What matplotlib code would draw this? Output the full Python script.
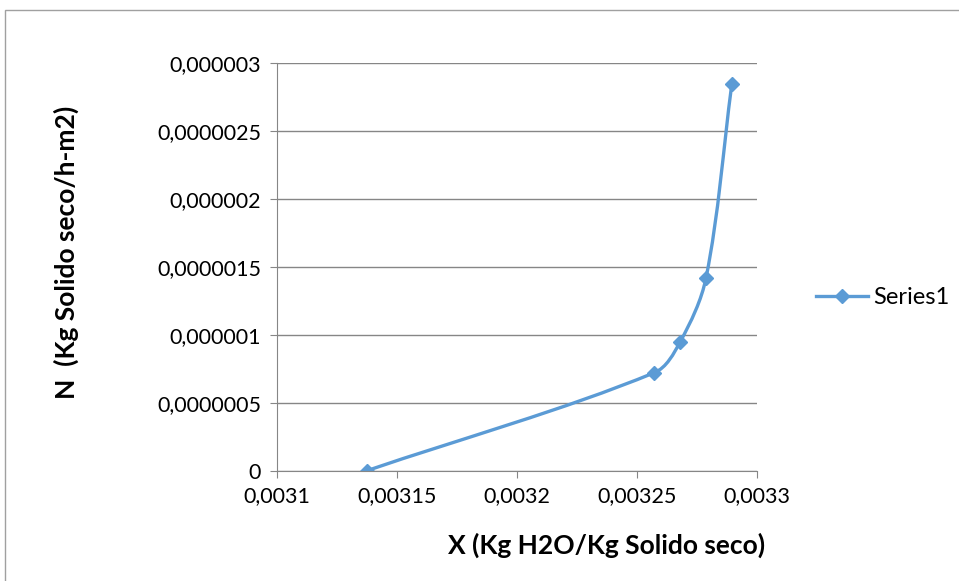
import numpy as np
import matplotlib
matplotlib.use("Agg")
import matplotlib.pyplot as plt
from matplotlib.path import Path
from matplotlib.patches import PathPatch, Rectangle
from matplotlib.lines import Line2D
from matplotlib.ticker import FuncFormatter, MultipleLocator

plt.rcParams['font.family'] = ['Lato', 'DejaVu Sans']

# humedad X y velocidad de secado N
x_vals = [0.0031376, 0.0032573, 0.003268, 0.0032788, 0.0032895]
n_vals = [0.0, 0.000000722, 0.000000948, 0.000001421, 0.000002845]
series_name = "Series1"

blue = "#5B9BD5"
grid_gray = "#868686"

x_lim = (0.0031, 0.0033)
y_lim = (0, 0.000003)
ax_w, ax_h = 480.5, 407.4   # tamano del area de trazado en pixeles


def smooth_path(xs, ys):
    # Bezier cubica; tangentes ponderadas por longitud de cuerda (en pixeles)
    sx = ax_w / (x_lim[1] - x_lim[0])
    sy = ax_h / (y_lim[1] - y_lim[0])
    p = np.column_stack([xs, ys])
    q = p * [sx, sy]
    n = len(p)
    d = [np.hypot(*(q[i + 1] - q[i])) for i in range(n - 1)]
    tang = []
    for i in range(n):
        prev = p[i - 1] if i > 0 else p[i]
        nxt = p[i + 1] if i + 1 < n else p[i]
        tang.append(nxt - prev)
    verts = [p[0]]
    codes = [Path.MOVETO]
    for i in range(n - 1):
        dp = d[i - 1] if i > 0 else 0.0
        dn = d[i + 1] if i + 1 < n - 1 else 0.0
        c1 = p[i] + tang[i] * d[i] / (dp + d[i]) / 3.0
        c2 = p[i + 1] - tang[i + 1] * d[i] / (d[i] + dn) / 3.0
        verts += [c1, c2, p[i + 1]]
        codes += [Path.CURVE4] * 3
    return Path(verts, codes)


def coma(v, pos):
    if v == 0:
        return "0"
    s = ("%.7f" % v).rstrip("0").rstrip(".")
    return s.replace(".", ",")


fig = plt.figure(figsize=(9.59, 5.81), dpi=100)
fig.patches.append(Rectangle((5 / 959, -0.1), 1.2, 1 - 9.5 / 581 + 0.1,
                             transform=fig.transFigure, fill=False,
                             edgecolor="#A0A0A0", lw=1.0))

ax = fig.add_axes([276.5 / 959, 1 - 470.7 / 581, ax_w / 959, ax_h / 581])
ax.set_xlim(*x_lim)
ax.set_ylim(*y_lim)
ax.xaxis.set_major_locator(MultipleLocator(0.00005))
ax.yaxis.set_major_locator(MultipleLocator(0.0000005))
ax.xaxis.set_major_formatter(FuncFormatter(coma))
ax.yaxis.set_major_formatter(FuncFormatter(coma))

ax.grid(axis="y", color=grid_gray, lw=1.0)
ax.set_axisbelow(True)
for side in ["top", "right"]:
    ax.spines[side].set_visible(False)
ax.spines["left"].set_color(grid_gray)
ax.spines["bottom"].set_color(grid_gray)
ax.tick_params(axis="both", direction="out", length=5, color=grid_gray,
               labelsize=15.5, pad=6)

ax.add_patch(PathPatch(smooth_path(x_vals, n_vals), fill=False,
                       edgecolor=blue, lw=2.4, capstyle="round"))
ax.plot(x_vals, n_vals, ls="none", marker="D", ms=7, color=blue)

ax.set_xlabel("X (Kg H2O/Kg Solido seco)", fontsize=19, fontweight="bold")
ax.xaxis.set_label_coords(0.687, -0.152)
ax.set_ylabel("N  (Kg Solido seco/h-m2)", fontsize=19, fontweight="bold")
ax.yaxis.set_label_coords(-0.41, 0.537)

handle = Line2D([], [], color=blue, lw=2.4, marker="D", ms=7)
fig.legend([handle], [series_name], loc="center left",
           bbox_to_anchor=(795 / 959, 1 - 298 / 581), frameon=False,
           fontsize=17, handlelength=2.2, handletextpad=0.2)

fig.savefig("out.png", dpi=100)
